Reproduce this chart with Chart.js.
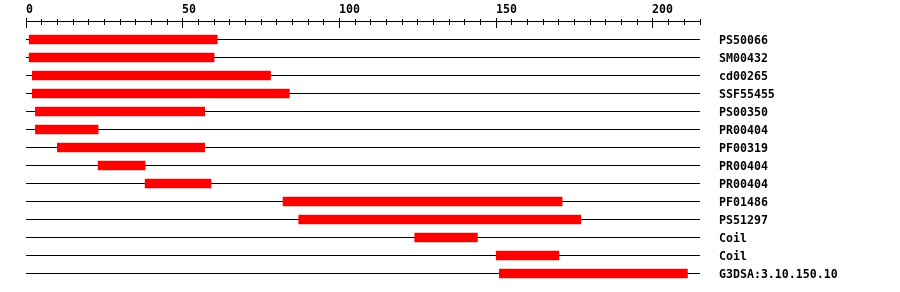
<!DOCTYPE html>
<html>
<head>
<meta charset="utf-8">
<script src="https://cdn.jsdelivr.net/npm/chart.js@4/dist/chart.umd.min.js"></script>
<style>
  html, body { margin: 0; padding: 0; background: #fff; }
  canvas { display: block; }
</style>
</head>
<body>
<canvas id="chart" width="900" height="292"></canvas>
<script>
// domain hits along the protein sequence
const seqLength = 215;
const features = ["PS50066", "SM00432", "cd00265", "SSF55455", "PS00350", "PR00404", "PF00319",
  "PR00404", "PR00404", "PF01486", "PS51297", "Coil", "Coil", "G3DSA:3.10.150.10"];
const starts = [1, 1, 2, 2, 3, 3, 10, 23, 38, 82, 87, 124, 150, 151];
const ends = [61, 60, 78, 84, 57, 23, 57, 38, 59, 171, 177, 144, 170, 211];
const majorTicks = [0, 50, 100, 150, 200];
const minorStep = 5;

const FONT = 'bold 11.6px "DejaVu Sans Mono", "Liberation Mono", monospace';
const crisp = v => Math.floor(v) + 0.5;

// top ruler, row lines and feature names
const trackPlugin = {
  id: "tracks",
  beforeDatasetsDraw(chart) {
    const { ctx, scales: { x, y } } = chart;
    const x0 = x.getPixelForValue(0), x1 = x.getPixelForValue(seqLength);
    ctx.save();
    ctx.strokeStyle = "#000";
    ctx.lineWidth = 1;
    ctx.beginPath();
    features.forEach((f, i) => {
      const py = crisp(y.getPixelForValue(i));
      ctx.moveTo(x0, py); ctx.lineTo(x1, py);
    });
    // ruler
    const ay = 21.5;
    ctx.moveTo(x0, ay); ctx.lineTo(x1, ay);
    for (let v = 0; v <= seqLength; v += minorStep) {
      const px = crisp(x.getPixelForValue(v));
      const major = majorTicks.includes(v);
      ctx.moveTo(px, major ? 18 : 19);
      ctx.lineTo(px, major ? 28 : 25);
    }
    ctx.stroke();

    ctx.fillStyle = "#000";
    ctx.font = FONT;
    ctx.textAlign = "left";
    ctx.textBaseline = "alphabetic";
    majorTicks.forEach(v => ctx.fillText(String(v), Math.floor(x.getPixelForValue(v)), 12.5));
    features.forEach((f, i) => ctx.fillText(f, 719, y.getPixelForValue(i) + 4));
    ctx.restore();
  }
};

new Chart(document.getElementById("chart"), {
  type: "bar",
  data: {
    labels: features,
    datasets: [{
      data: starts.map((s, i) => [s, ends[i]]),
      backgroundColor: "#ff0000",
      borderWidth: 0,
      barThickness: 9
    }]
  },
  options: {
    indexAxis: "y",
    responsive: false,
    animation: false,
    layout: { padding: { left: 26, right: 200, top: 30.5, bottom: 9.5 } },
    plugins: { legend: { display: false }, tooltip: { enabled: false } },
    scales: {
      x: { type: "linear", min: 0, max: seqLength, display: false },
      y: { type: "category", display: false }
    }
  },
  plugins: [trackPlugin]
});
</script>
</body>
</html>
